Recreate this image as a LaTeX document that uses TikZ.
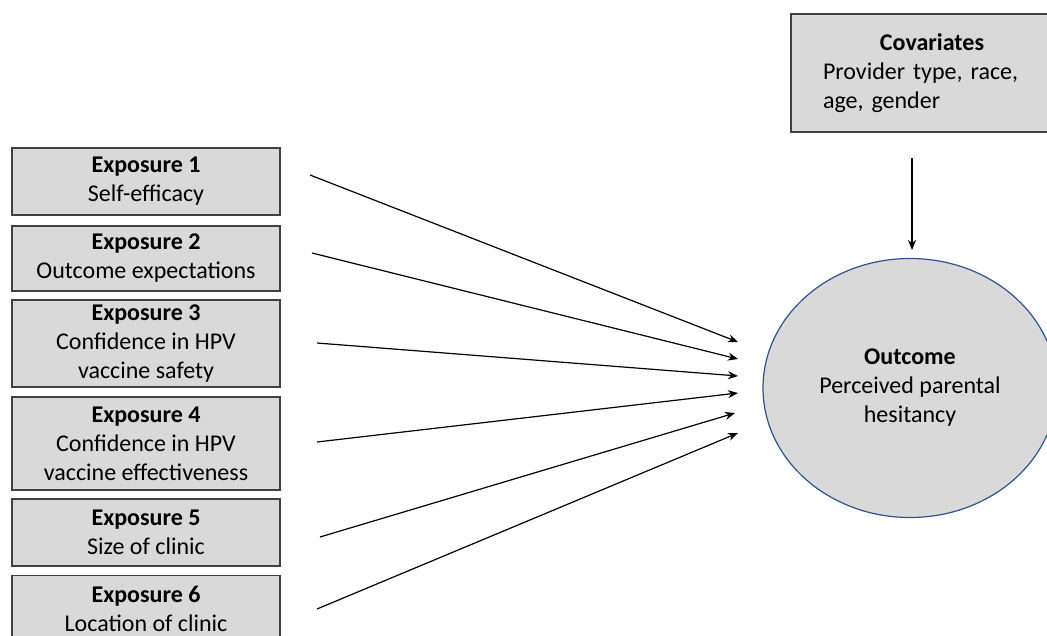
\documentclass[tikz,border=0pt]{standalone}
\usepackage{fontspec}
\setmainfont{Carlito}
\frenchspacing
\usetikzlibrary{arrows.meta,positioning,shapes.geometric}
\definecolor{gf}{RGB}{217,217,217}
\definecolor{gl}{RGB}{64,64,64}
\definecolor{bl}{RGB}{47,82,143}

\begin{document}
\begin{tikzpicture}[x=1pt, y=-1pt,
  box/.style={draw=gl, fill=gf, line width=1.3pt, minimum width=268pt, align=center, inner sep=0pt, font=\fontsize{24}{29}\selectfont},
  oval/.style={ellipse, draw=bl, fill=gf, line width=1.2pt, minimum width=294pt, minimum height=259pt, inner sep=0pt, align=center, font=\fontsize{24}{29}\selectfont},
  arrow/.style={-{Stealth[length=10pt, width=8pt]}, line width=1.2pt, color=black}
]
\clip (0,0) rectangle (1047,635);
% Exposures (left column)
\node[box, minimum height=67pt] (ex1) at (146,181.5) {\textbf{Exposure 1}\\Self-efficacy};
\node[box, minimum height=65pt] (ex2) at (146,258.5) {\textbf{Exposure 2}\\Outcome expectations};
\node[box, minimum height=87pt] (ex3) at (146,343.5) {\textbf{Exposure 3}\\Confidence in HPV\\vaccine safety};
\node[box, minimum height=93pt] (ex4) at (146,443.5) {\textbf{Exposure 4}\\Confidence in HPV\\vaccine effectiveness};
\node[box, minimum height=67pt] (ex5) at (146,532.5) {\textbf{Exposure 5}\\Size of clinic};
\node[box, minimum height=67pt] (ex6) at (146,609) {\textbf{Exposure 6}\\Location of clinic};
% Covariates and outcome (right)
\node[box, minimum width=282pt, minimum height=118pt, text width=218pt, align=left] (cov) at (932,73) {\makebox[\linewidth]{\textbf{Covariates}}\\Provider type, race,\\age, gender};
\node[oval] (out) at (910,388) {\textbf{Outcome}\\Perceived parental\\hesitancy};
% Arrow ends (free, between the columns)
\coordinate (s1) at (310,175);
\coordinate (s2) at (312,253);
\coordinate (s3) at (317,343);
\coordinate (s4) at (317,442);
\coordinate (s5) at (320,537);
\coordinate (s6) at (317,609);
\coordinate (t1) at (738,342);
\coordinate (t2) at (738,359);
\coordinate (t3) at (738,376);
\coordinate (t4) at (738,393);
\coordinate (t5) at (735,413);
\coordinate (t6) at (738,433);
\coordinate (c1) at (912,158);
\coordinate (c2) at (912,250);
\draw[arrow] (s1) -- (t1);
\draw[arrow] (s2) -- (t2);
\draw[arrow] (s3) -- (t3);
\draw[arrow] (s4) -- (t4);
\draw[arrow] (s5) -- (t5);
\draw[arrow] (s6) -- (t6);
\draw[arrow] (c1) -- (c2);
\end{tikzpicture}
\end{document}
